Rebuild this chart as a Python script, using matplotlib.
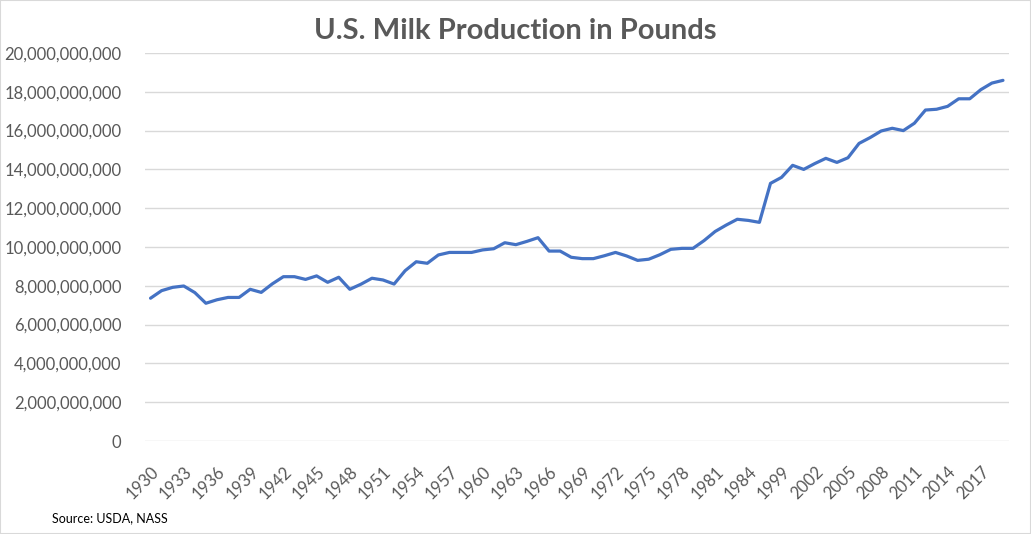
import matplotlib.pyplot as plt
import matplotlib.ticker as tkr
from matplotlib.patches import Rectangle

# years shown on the category axis (gap between 1985 and 1998)
years = list(range(1930, 1986)) + list(range(1998, 2020))

# milk production, billions of pounds
production_bn = [
  7.36, 7.75, 7.92, 7.99, 7.65, 7.10, 7.28, 7.40, 7.40, 7.82,
  7.66, 8.10, 8.47, 8.47, 8.33, 8.51, 8.18, 8.44, 7.82, 8.08,
  8.39, 8.30, 8.09, 8.78, 9.24, 9.16, 9.59, 9.72, 9.72, 9.72,
  9.85, 9.91, 10.22, 10.12, 10.29, 10.48, 9.79, 9.79, 9.47, 9.40,
  9.40, 9.55, 9.72, 9.54, 9.31, 9.37, 9.60, 9.88, 9.93, 9.93,
  10.33, 10.80, 11.13, 11.43, 11.37, 11.27, 13.28, 13.59, 14.21, 14.00,
  14.30, 14.57, 14.36, 14.60, 15.34, 15.64, 15.98, 16.12, 16.00, 16.38,
  17.06, 17.10, 17.25, 17.64, 17.64, 18.11, 18.45, 18.59,
]

title = 'U.S. Milk Production in Pounds'
source = 'Source: USDA, NASS'

GREY = '#595959'
GRID = '#d9d9d9'
BLUE = '#4472C4'

plt.rcParams['font.family'] = ['Lato', 'DejaVu Sans']

fig = plt.figure(figsize=(10.31, 5.34), dpi=100)
ax = fig.add_axes([145 / 1031, 1 - 441 / 534, (1008.5 - 145) / 1031, (441 - 53) / 534])

x = list(range(len(years)))
values = [v * 1e9 for v in production_bn]
ax.plot(x, values, color=BLUE, lw=2.3, solid_joinstyle='round', solid_capstyle='round')

ax.set_xlim(-0.5, len(years) - 0.5)
ax.set_ylim(0, 20e9)
ax.yaxis.set_major_locator(tkr.MultipleLocator(2e9))
ax.yaxis.set_major_formatter(tkr.FuncFormatter(lambda v, pos: f'{int(round(v)):,}'))
ax.grid(axis='y', color=GRID, lw=1)
ax.set_axisbelow(True)
for s in ax.spines.values():
  s.set_visible(False)

ax.set_xticks(x[::3])
ax.set_xticklabels([str(years[i]) for i in x[::3]], rotation=45, ha='right',
                   rotation_mode='anchor')
ax.tick_params(axis='x', length=0, pad=16, labelsize=12, labelcolor=GREY)
ax.tick_params(axis='y', length=0, pad=17, labelsize=12, labelcolor=GREY)

fig.text(515, 534 - 31, title, transform=None, ha='center', va='center',
         fontsize=21, fontweight='bold', color=GREY)
fig.text(52, 534 - 518, source, transform=None, ha='left', va='center',
         fontsize=9, color='black')

fig.patches.append(Rectangle((0, 0), 1, 1, transform=fig.transFigure,
                             fill=False, edgecolor=GRID, lw=1.5))

fig.savefig('out.png', dpi=100)
